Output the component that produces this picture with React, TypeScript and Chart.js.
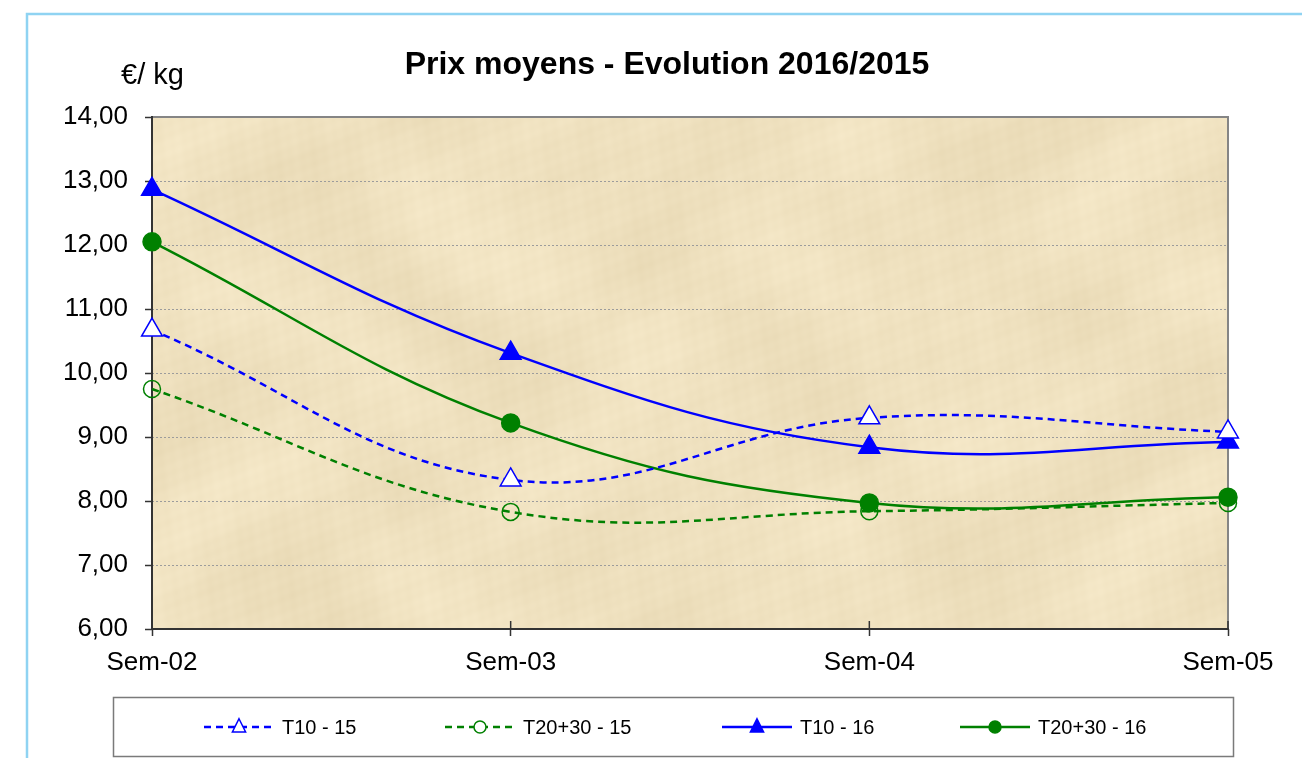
import React, { useEffect, useRef } from 'react';
import { Chart, registerables } from 'chart.js';

Chart.register(...registerables);

const categories = ['Sem-02', 'Sem-03', 'Sem-04', 'Sem-05'];
const t10_15 = [10.67, 8.33, 9.3, 9.08];
const t2030_15 = [9.75, 7.83, 7.84, 7.97];
const t10_16 = [12.87, 10.31, 8.84, 8.92];
const t2030_16 = [12.05, 9.22, 7.97, 8.06];
const seriesLabels = ['T10 - 15', 'T20+30 - 15', 'T10 - 16', 'T20+30 - 16'];
const yMin = 6;
const yMax = 14;
const yStep = 1;
const titleText = 'Prix moyens - Evolution 2016/2015';
const unitText = '€/ kg';

const FONT = '"Liberation Sans", Arial, Helvetica, sans-serif';
const BLUE = '#0000ff';
const GREEN = '#008000';

let textureCache: HTMLCanvasElement | null = null;
function makeTexture(w: number, h: number) {
  if (textureCache && textureCache.width === w && textureCache.height === h) return textureCache;
  const c = document.createElement('canvas');
  c.width = w;
  c.height = h;
  const g = c.getContext('2d')!;
  const img = g.createImageData(w, h);
  for (let y = 0; y < h; y++) {
    for (let x = 0; x < w; x++) {
      const n =
        0.4 * Math.sin(x * 0.019 + Math.sin(y * 0.017) * 2.2) +
        0.3 * Math.sin(y * 0.031 + Math.sin(x * 0.013) * 3) +
        0.25 * Math.sin(x * 0.11 + y * 0.07) * Math.sin(x * 0.05 - y * 0.09) +
        0.2 * Math.sin(x * 0.37 + y * 0.23) * Math.sin(y * 0.29 - x * 0.17);
      const i = (y * w + x) * 4;
      img.data[i] = 239 + 6 * n;
      img.data[i + 1] = 225 + 7 * n;
      img.data[i + 2] = 191 + 9 * n;
      img.data[i + 3] = 255;
    }
  }
  g.putImageData(img, 0, 0);
  textureCache = c;
  return c;
}

function drawMarker(ctx: CanvasRenderingContext2D, style: string, r: number, x: number, y: number) {
  ctx.beginPath();
  if (style === 'triangle') {
    ctx.moveTo(x, y - r * 0.75);
    ctx.lineTo(x + r * 0.6, y + r * 0.45);
    ctx.lineTo(x - r * 0.6, y + r * 0.45);
    ctx.closePath();
  } else {
    ctx.arc(x, y, r, 0, Math.PI * 2);
  }
  ctx.fill();
  ctx.stroke();
}

const decor = {
  id: 'decor',
  beforeDraw(chart: any) {
    const { ctx, chartArea: a } = chart;
    ctx.save();
    ctx.drawImage(makeTexture(Math.round(a.right - a.left), Math.round(a.bottom - a.top)), a.left, a.top);
    ctx.restore();
  },
  beforeDatasetsDraw(chart: any) {
    const { ctx, chartArea: a, scales } = chart;
    ctx.save();
    ctx.strokeStyle = '#9c9c9c';
    ctx.lineWidth = 1;
    ctx.setLineDash([2, 2]);
    for (let v = yMin + yStep; v < yMax; v += yStep) {
      const y = Math.round(scales.y.getPixelForValue(v)) + 0.5;
      ctx.beginPath();
      ctx.moveTo(a.left, y);
      ctx.lineTo(a.right, y);
      ctx.stroke();
    }
    ctx.setLineDash([]);
    ctx.strokeStyle = '#858585';
    ctx.lineWidth = 2;
    ctx.beginPath();
    ctx.moveTo(a.left, a.top);
    ctx.lineTo(a.right, a.top);
    ctx.lineTo(a.right, a.bottom);
    ctx.stroke();
    ctx.strokeStyle = '#333333';
    ctx.beginPath();
    ctx.moveTo(a.left, a.top - 1);
    ctx.lineTo(a.left, a.bottom);
    ctx.lineTo(a.right + 1, a.bottom);
    ctx.stroke();
    ctx.lineWidth = 1.5;
    for (let i = 1; i < categories.length; i++) {
      const x = scales.x.getPixelForValue(i);
      ctx.beginPath();
      ctx.moveTo(x, a.bottom - 8);
      ctx.lineTo(x, a.bottom);
      ctx.stroke();
    }
    ctx.restore();
  },
  afterDraw(chart: any) {
    const { ctx } = chart;
    ctx.save();
    ctx.strokeStyle = '#8fd3f2';
    ctx.lineWidth = 2.5;
    ctx.beginPath();
    ctx.moveTo(27, 760);
    ctx.lineTo(27, 14);
    ctx.lineTo(1310, 14);
    ctx.stroke();
    ctx.fillStyle = '#000';
    ctx.textAlign = 'center';
    ctx.textBaseline = 'middle';
    ctx.font = `bold 32px ${FONT}`;
    ctx.fillText(titleText, 667, 65);
    ctx.textAlign = 'left';
    ctx.font = `29px ${FONT}`;
    ctx.fillText(unitText, 121, 76);
    ctx.strokeStyle = '#7a7a7a';
    ctx.lineWidth = 1.5;
    ctx.strokeRect(113.5, 697.5, 1120, 59);
    const starts = [204, 445, 722, 960];
    const ly = 727;
    chart.data.datasets.forEach((d: any, i: number) => {
      const x0 = starts[i];
      const x1 = x0 + 70;
      ctx.strokeStyle = d.borderColor;
      ctx.lineWidth = 2.5;
      ctx.setLineDash(d.borderDash || []);
      ctx.beginPath();
      ctx.moveTo(x0, ly);
      ctx.lineTo(x1, ly);
      ctx.stroke();
      ctx.setLineDash([]);
      const mx = (x0 + x1) / 2;
      ctx.fillStyle = d.pointBackgroundColor === 'rgba(0,0,0,0)' ? '#ffffff' : d.pointBackgroundColor;
      ctx.strokeStyle = d.pointBorderColor;
      ctx.lineWidth = 1.5;
      drawMarker(ctx, d.pointStyle, d.pointStyle === 'triangle' ? 11 : 6, mx, ly);
      ctx.fillStyle = '#000';
      ctx.font = `20px ${FONT}`;
      ctx.textBaseline = 'middle';
      ctx.fillText(d.label, x1 + 8, ly + 1);
    });
    ctx.restore();
  },
};

export default function App() {
  const ref = useRef<HTMLCanvasElement | null>(null);
  useEffect(() => {
    document.body.style.margin = '0';
    const canvas = ref.current!;
    const common = { borderWidth: 2.5, tension: 0.4, pointBorderWidth: 1.5, clip: false as any };
    const chart = new Chart(canvas, {
      type: 'line',
      data: {
        labels: categories,
        datasets: [
          {
            ...common,
            label: seriesLabels[0],
            data: t10_15,
            borderColor: BLUE,
            borderDash: [7, 5],
            pointStyle: 'triangle',
            pointRadius: 12,
            pointBackgroundColor: '#ffffff',
            pointBorderColor: BLUE,
          },
          {
            ...common,
            label: seriesLabels[1],
            data: t2030_15,
            borderColor: GREEN,
            borderDash: [7, 5],
            pointStyle: 'circle',
            pointRadius: 8.5,
            pointBackgroundColor: 'rgba(0,0,0,0)',
            pointBorderColor: GREEN,
          },
          {
            ...common,
            label: seriesLabels[2],
            data: t10_16,
            borderColor: BLUE,
            pointStyle: 'triangle',
            pointRadius: 12,
            pointBackgroundColor: BLUE,
            pointBorderColor: BLUE,
          },
          {
            ...common,
            label: seriesLabels[3],
            data: t2030_16,
            borderColor: GREEN,
            pointStyle: 'circle',
            pointRadius: 9,
            pointBackgroundColor: GREEN,
            pointBorderColor: GREEN,
          },
        ],
      },
      options: {
        responsive: false,
        animation: false,
        layout: { padding: { top: 117, right: 74, left: 0, bottom: 0 } },
        plugins: {
          legend: { display: false },
          title: { display: false },
          tooltip: { enabled: false },
        },
        scales: {
          x: {
            type: 'category',
            offset: false,
            afterFit: (s: any) => {
              s.height = 129;
            },
            grid: {
              drawOnChartArea: false,
              drawTicks: true,
              tickLength: 7,
              tickColor: '#333333',
              tickWidth: 1.5,
            },
            border: { display: false },
            ticks: {
              color: '#000',
              padding: 11,
              maxRotation: 0,
              autoSkip: false,
              font: { family: FONT, size: 26 },
            },
          },
          y: {
            min: yMin,
            max: yMax,
            afterFit: (s: any) => {
              s.width = 152;
            },
            grid: {
              drawOnChartArea: false,
              drawTicks: true,
              tickLength: 7,
              tickColor: '#333333',
              tickWidth: 1.5,
            },
            border: { display: false },
            ticks: {
              stepSize: yStep,
              color: '#000',
              padding: 17,
              font: { family: FONT, size: 26 },
              callback: (v: any) => Number(v).toFixed(2).replace('.', ','),
            },
          },
        },
      },
      plugins: [decor],
    });
    return () => chart.destroy();
  }, []);
  return <canvas ref={ref} width={1302} height={758} style={{ display: 'block' }} />;
}
